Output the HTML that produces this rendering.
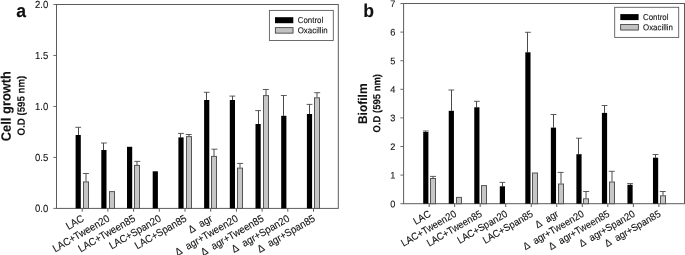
<!DOCTYPE html>
<html><head><meta charset="utf-8"><title>Figure</title>
<style>
html,body{margin:0;padding:0;background:#fff;}
body{width:685px;height:255px;overflow:hidden;font-family:"Liberation Sans",sans-serif;}
svg{display:block;will-change:transform;}
svg text{font-family:"Liberation Sans",sans-serif;fill:#111;stroke:#111;stroke-width:0.1px;}
</style></head><body>
<svg width="685" height="255" viewBox="0 0 685 255">
<rect x="0" y="0" width="685" height="255" fill="#fff"/>
<rect x="56.50" y="4.50" width="281.80" height="203.90" fill="none" stroke="#5c5c5c" stroke-width="1.0"/>
<line x1="53.30" y1="208.40" x2="56.50" y2="208.40" stroke="#5c5c5c" stroke-width="0.9"/>
<text transform="translate(48.20 211.90) rotate(0.15) scale(1 1.08)" font-size="9.5" text-anchor="end">0.0</text>
<line x1="53.30" y1="157.43" x2="56.50" y2="157.43" stroke="#5c5c5c" stroke-width="0.9"/>
<text transform="translate(48.20 160.93) rotate(0.15) scale(1 1.08)" font-size="9.5" text-anchor="end">0.5</text>
<line x1="53.30" y1="106.45" x2="56.50" y2="106.45" stroke="#5c5c5c" stroke-width="0.9"/>
<text transform="translate(48.20 109.95) rotate(0.15) scale(1 1.08)" font-size="9.5" text-anchor="end">1.0</text>
<line x1="53.30" y1="55.47" x2="56.50" y2="55.47" stroke="#5c5c5c" stroke-width="0.9"/>
<text transform="translate(48.20 58.97) rotate(0.15) scale(1 1.08)" font-size="9.5" text-anchor="end">1.5</text>
<line x1="53.30" y1="4.50" x2="56.50" y2="4.50" stroke="#5c5c5c" stroke-width="0.9"/>
<text transform="translate(48.20 8.00) rotate(0.15) scale(1 1.08)" font-size="9.5" text-anchor="end">2.0</text>
<line x1="82.20" y1="208.40" x2="82.20" y2="211.70" stroke="#5c5c5c" stroke-width="1.0"/>
<text transform="translate(84.70 220.60) rotate(-30) scale(1 1.08)" font-size="9.7" text-anchor="end" stroke="#111" stroke-width="0.15">LAC</text>
<line x1="107.90" y1="208.40" x2="107.90" y2="211.70" stroke="#5c5c5c" stroke-width="1.0"/>
<text transform="translate(110.40 220.60) rotate(-30) scale(1 1.08)" font-size="9.7" text-anchor="end" stroke="#111" stroke-width="0.15">LAC+Tween20</text>
<line x1="133.60" y1="208.40" x2="133.60" y2="211.70" stroke="#5c5c5c" stroke-width="1.0"/>
<text transform="translate(136.10 220.60) rotate(-30) scale(1 1.08)" font-size="9.7" text-anchor="end" stroke="#111" stroke-width="0.15">LAC+Tween85</text>
<line x1="159.30" y1="208.40" x2="159.30" y2="211.70" stroke="#5c5c5c" stroke-width="1.0"/>
<text transform="translate(161.80 220.60) rotate(-30) scale(1 1.08)" font-size="9.7" text-anchor="end" stroke="#111" stroke-width="0.15">LAC+Span20</text>
<line x1="185.00" y1="208.40" x2="185.00" y2="211.70" stroke="#5c5c5c" stroke-width="1.0"/>
<text transform="translate(187.50 220.60) rotate(-30) scale(1 1.08)" font-size="9.7" text-anchor="end" stroke="#111" stroke-width="0.15">LAC+Span85</text>
<line x1="210.70" y1="208.40" x2="210.70" y2="211.70" stroke="#5c5c5c" stroke-width="1.0"/>
<text transform="translate(213.20 220.60) rotate(-30) scale(1 1.08)" font-size="9.7" text-anchor="end" stroke="#111" stroke-width="0.15">Δ  agr</text>
<line x1="236.40" y1="208.40" x2="236.40" y2="211.70" stroke="#5c5c5c" stroke-width="1.0"/>
<text transform="translate(238.90 220.60) rotate(-30) scale(1 1.08)" font-size="9.7" text-anchor="end" stroke="#111" stroke-width="0.15">Δ  agr+Tween20</text>
<line x1="262.10" y1="208.40" x2="262.10" y2="211.70" stroke="#5c5c5c" stroke-width="1.0"/>
<text transform="translate(264.60 220.60) rotate(-30) scale(1 1.08)" font-size="9.7" text-anchor="end" stroke="#111" stroke-width="0.15">Δ  agr+Tween85</text>
<line x1="287.80" y1="208.40" x2="287.80" y2="211.70" stroke="#5c5c5c" stroke-width="1.0"/>
<text transform="translate(290.30 220.60) rotate(-30) scale(1 1.08)" font-size="9.7" text-anchor="end" stroke="#111" stroke-width="0.15">Δ  agr+Span20</text>
<line x1="313.50" y1="208.40" x2="313.50" y2="211.70" stroke="#5c5c5c" stroke-width="1.0"/>
<text transform="translate(316.00 220.60) rotate(-30) scale(1 1.08)" font-size="9.7" text-anchor="end" stroke="#111" stroke-width="0.15">Δ  agr+Span85</text>
<line x1="78.50" y1="127.30" x2="78.50" y2="135.00" stroke="#4a4a4a" stroke-width="1.0"/>
<line x1="75.30" y1="127.30" x2="81.10" y2="127.30" stroke="#4a4a4a" stroke-width="0.9"/>
<rect x="75.60" y="135.00" width="5.20" height="73.40" fill="#000"/>
<line x1="103.50" y1="143.00" x2="103.50" y2="150.00" stroke="#4a4a4a" stroke-width="1.0"/>
<line x1="101.00" y1="143.00" x2="106.80" y2="143.00" stroke="#4a4a4a" stroke-width="0.9"/>
<rect x="101.30" y="150.00" width="5.20" height="58.40" fill="#000"/>
<rect x="127.00" y="146.80" width="5.20" height="61.60" fill="#000"/>
<rect x="152.70" y="171.30" width="5.20" height="37.10" fill="#000"/>
<line x1="180.50" y1="133.40" x2="180.50" y2="137.40" stroke="#4a4a4a" stroke-width="1.0"/>
<line x1="178.10" y1="133.40" x2="183.90" y2="133.40" stroke="#4a4a4a" stroke-width="0.9"/>
<rect x="178.40" y="137.40" width="5.20" height="71.00" fill="#000"/>
<line x1="206.50" y1="92.30" x2="206.50" y2="100.00" stroke="#4a4a4a" stroke-width="1.0"/>
<line x1="203.80" y1="92.30" x2="209.60" y2="92.30" stroke="#4a4a4a" stroke-width="0.9"/>
<rect x="204.10" y="100.00" width="5.20" height="108.40" fill="#000"/>
<line x1="232.50" y1="96.10" x2="232.50" y2="100.00" stroke="#4a4a4a" stroke-width="1.0"/>
<line x1="229.50" y1="96.10" x2="235.30" y2="96.10" stroke="#4a4a4a" stroke-width="0.9"/>
<rect x="229.80" y="100.00" width="5.20" height="108.40" fill="#000"/>
<line x1="258.50" y1="110.60" x2="258.50" y2="124.00" stroke="#4a4a4a" stroke-width="1.0"/>
<line x1="255.20" y1="110.60" x2="261.00" y2="110.60" stroke="#4a4a4a" stroke-width="0.9"/>
<rect x="255.50" y="124.00" width="5.20" height="84.40" fill="#000"/>
<line x1="283.50" y1="95.50" x2="283.50" y2="115.80" stroke="#4a4a4a" stroke-width="1.0"/>
<line x1="280.90" y1="95.50" x2="286.70" y2="95.50" stroke="#4a4a4a" stroke-width="0.9"/>
<rect x="281.20" y="115.80" width="5.20" height="92.60" fill="#000"/>
<line x1="309.50" y1="104.40" x2="309.50" y2="114.00" stroke="#4a4a4a" stroke-width="1.0"/>
<line x1="306.60" y1="104.40" x2="312.40" y2="104.40" stroke="#4a4a4a" stroke-width="0.9"/>
<rect x="306.90" y="114.00" width="5.20" height="94.40" fill="#000"/>
<line x1="86.00" y1="173.50" x2="86.00" y2="181.50" stroke="#4a4a4a" stroke-width="1.0"/>
<line x1="82.90" y1="173.50" x2="88.90" y2="173.50" stroke="#4a4a4a" stroke-width="0.9"/>
<rect x="83.50" y="181.90" width="5.00" height="26.50" fill="#c6c6c6" stroke="#555" stroke-width="1.0"/>
<rect x="109.50" y="191.60" width="5.00" height="16.80" fill="#c6c6c6" stroke="#555" stroke-width="1.0"/>
<line x1="137.00" y1="161.40" x2="137.00" y2="165.00" stroke="#4a4a4a" stroke-width="1.0"/>
<line x1="134.30" y1="161.40" x2="140.30" y2="161.40" stroke="#4a4a4a" stroke-width="0.9"/>
<rect x="134.50" y="165.40" width="5.00" height="43.00" fill="#c6c6c6" stroke="#555" stroke-width="1.0"/>
<line x1="189.00" y1="134.50" x2="189.00" y2="136.20" stroke="#4a4a4a" stroke-width="1.0"/>
<line x1="185.70" y1="134.50" x2="191.70" y2="134.50" stroke="#4a4a4a" stroke-width="0.9"/>
<rect x="186.50" y="136.60" width="5.00" height="71.80" fill="#c6c6c6" stroke="#555" stroke-width="1.0"/>
<line x1="214.00" y1="149.20" x2="214.00" y2="156.00" stroke="#4a4a4a" stroke-width="1.0"/>
<line x1="211.40" y1="149.20" x2="217.40" y2="149.20" stroke="#4a4a4a" stroke-width="0.9"/>
<rect x="211.50" y="156.40" width="5.00" height="52.00" fill="#c6c6c6" stroke="#555" stroke-width="1.0"/>
<line x1="240.00" y1="163.40" x2="240.00" y2="167.70" stroke="#4a4a4a" stroke-width="1.0"/>
<line x1="237.10" y1="163.40" x2="243.10" y2="163.40" stroke="#4a4a4a" stroke-width="0.9"/>
<rect x="237.50" y="168.10" width="5.00" height="40.30" fill="#c6c6c6" stroke="#555" stroke-width="1.0"/>
<line x1="266.00" y1="89.50" x2="266.00" y2="95.20" stroke="#4a4a4a" stroke-width="1.0"/>
<line x1="262.80" y1="89.50" x2="268.80" y2="89.50" stroke="#4a4a4a" stroke-width="0.9"/>
<rect x="263.50" y="95.60" width="5.00" height="112.80" fill="#c6c6c6" stroke="#555" stroke-width="1.0"/>
<line x1="317.00" y1="92.70" x2="317.00" y2="97.40" stroke="#4a4a4a" stroke-width="1.0"/>
<line x1="314.20" y1="92.70" x2="320.20" y2="92.70" stroke="#4a4a4a" stroke-width="0.9"/>
<rect x="314.50" y="97.80" width="5.00" height="110.60" fill="#c6c6c6" stroke="#555" stroke-width="1.0"/>
<rect x="269.40" y="10.40" width="63.90" height="30.10" fill="#fff" stroke="#5c5c5c" stroke-width="0.9"/>
<rect x="275.00" y="17.20" width="18.30" height="6.00" fill="#000"/>
<rect x="275.35" y="27.65" width="17.70" height="5.50" fill="#c2c2c2" stroke="#333" stroke-width="0.8"/>
<text transform="translate(297.70 23.00) rotate(0.15) scale(1 1.08)" font-size="7.9" text-anchor="start">Control</text>
<text transform="translate(297.70 33.30) rotate(0.15) scale(1 1.08)" font-size="7.9" text-anchor="start">Oxacillin</text>
<text transform="translate(10.70 141.20) rotate(-90.15) scale(1 1.055)" font-size="12.9" text-anchor="start" font-weight="bold">Cell growth</text>
<text transform="translate(24.70 135.40) rotate(-90.15) scale(1 1.08)" font-size="9.7" text-anchor="start" font-weight="bold">O.D (595 nm)</text>
<text transform="translate(16.20 17.10) rotate(0.15) scale(1 1.06)" font-size="17.6" text-anchor="start" font-weight="bold">a</text>
<rect x="403.60" y="3.50" width="280.90" height="200.20" fill="none" stroke="#5c5c5c" stroke-width="1.0"/>
<line x1="400.40" y1="203.70" x2="403.60" y2="203.70" stroke="#5c5c5c" stroke-width="0.9"/>
<text transform="translate(395.30 207.15) rotate(0.15) scale(1 1.03)" font-size="9.2" text-anchor="end">0</text>
<line x1="400.40" y1="175.10" x2="403.60" y2="175.10" stroke="#5c5c5c" stroke-width="0.9"/>
<text transform="translate(395.30 178.55) rotate(0.15) scale(1 1.03)" font-size="9.2" text-anchor="end">1</text>
<line x1="400.40" y1="146.50" x2="403.60" y2="146.50" stroke="#5c5c5c" stroke-width="0.9"/>
<text transform="translate(395.30 149.95) rotate(0.15) scale(1 1.03)" font-size="9.2" text-anchor="end">2</text>
<line x1="400.40" y1="117.90" x2="403.60" y2="117.90" stroke="#5c5c5c" stroke-width="0.9"/>
<text transform="translate(395.30 121.35) rotate(0.15) scale(1 1.03)" font-size="9.2" text-anchor="end">3</text>
<line x1="400.40" y1="89.30" x2="403.60" y2="89.30" stroke="#5c5c5c" stroke-width="0.9"/>
<text transform="translate(395.30 92.75) rotate(0.15) scale(1 1.03)" font-size="9.2" text-anchor="end">4</text>
<line x1="400.40" y1="60.70" x2="403.60" y2="60.70" stroke="#5c5c5c" stroke-width="0.9"/>
<text transform="translate(395.30 64.15) rotate(0.15) scale(1 1.03)" font-size="9.2" text-anchor="end">5</text>
<line x1="400.40" y1="32.10" x2="403.60" y2="32.10" stroke="#5c5c5c" stroke-width="0.9"/>
<text transform="translate(395.30 35.55) rotate(0.15) scale(1 1.03)" font-size="9.2" text-anchor="end">6</text>
<line x1="400.40" y1="3.50" x2="403.60" y2="3.50" stroke="#5c5c5c" stroke-width="0.9"/>
<text transform="translate(395.30 6.95) rotate(0.15) scale(1 1.03)" font-size="9.2" text-anchor="end">7</text>
<line x1="429.13" y1="203.70" x2="429.13" y2="207.00" stroke="#5c5c5c" stroke-width="1.0"/>
<text transform="translate(431.63 215.90) rotate(-30) scale(1 1.08)" font-size="9.4" text-anchor="end" stroke="#111" stroke-width="0.15">LAC</text>
<line x1="454.66" y1="203.70" x2="454.66" y2="207.00" stroke="#5c5c5c" stroke-width="1.0"/>
<text transform="translate(457.16 215.90) rotate(-30) scale(1 1.08)" font-size="9.4" text-anchor="end" stroke="#111" stroke-width="0.15">LAC+Tween20</text>
<line x1="480.19" y1="203.70" x2="480.19" y2="207.00" stroke="#5c5c5c" stroke-width="1.0"/>
<text transform="translate(482.69 215.90) rotate(-30) scale(1 1.08)" font-size="9.4" text-anchor="end" stroke="#111" stroke-width="0.15">LAC+Tween85</text>
<line x1="505.72" y1="203.70" x2="505.72" y2="207.00" stroke="#5c5c5c" stroke-width="1.0"/>
<text transform="translate(508.22 215.90) rotate(-30) scale(1 1.08)" font-size="9.4" text-anchor="end" stroke="#111" stroke-width="0.15">LAC+Span20</text>
<line x1="531.25" y1="203.70" x2="531.25" y2="207.00" stroke="#5c5c5c" stroke-width="1.0"/>
<text transform="translate(533.75 215.90) rotate(-30) scale(1 1.08)" font-size="9.4" text-anchor="end" stroke="#111" stroke-width="0.15">LAC+Span85</text>
<line x1="556.78" y1="203.70" x2="556.78" y2="207.00" stroke="#5c5c5c" stroke-width="1.0"/>
<text transform="translate(559.28 215.90) rotate(-30) scale(1 1.08)" font-size="9.4" text-anchor="end" stroke="#111" stroke-width="0.15">Δ  agr</text>
<line x1="582.31" y1="203.70" x2="582.31" y2="207.00" stroke="#5c5c5c" stroke-width="1.0"/>
<text transform="translate(584.81 215.90) rotate(-30) scale(1 1.08)" font-size="9.4" text-anchor="end" stroke="#111" stroke-width="0.15">Δ  agr+Tween20</text>
<line x1="607.84" y1="203.70" x2="607.84" y2="207.00" stroke="#5c5c5c" stroke-width="1.0"/>
<text transform="translate(610.34 215.90) rotate(-30) scale(1 1.08)" font-size="9.4" text-anchor="end" stroke="#111" stroke-width="0.15">Δ  agr+Tween85</text>
<line x1="633.37" y1="203.70" x2="633.37" y2="207.00" stroke="#5c5c5c" stroke-width="1.0"/>
<text transform="translate(635.87 215.90) rotate(-30) scale(1 1.08)" font-size="9.4" text-anchor="end" stroke="#111" stroke-width="0.15">Δ  agr+Span20</text>
<line x1="658.90" y1="203.70" x2="658.90" y2="207.00" stroke="#5c5c5c" stroke-width="1.0"/>
<text transform="translate(661.40 215.90) rotate(-30) scale(1 1.08)" font-size="9.4" text-anchor="end" stroke="#111" stroke-width="0.15">Δ  agr+Span85</text>
<line x1="425.50" y1="131.00" x2="425.50" y2="132.00" stroke="#4a4a4a" stroke-width="1.0"/>
<line x1="422.90" y1="131.00" x2="428.70" y2="131.00" stroke="#4a4a4a" stroke-width="0.9"/>
<rect x="423.20" y="132.00" width="5.20" height="71.70" fill="#000"/>
<line x1="451.50" y1="90.00" x2="451.50" y2="110.80" stroke="#4a4a4a" stroke-width="1.0"/>
<line x1="448.43" y1="90.00" x2="454.23" y2="90.00" stroke="#4a4a4a" stroke-width="0.9"/>
<rect x="448.73" y="110.80" width="5.20" height="92.90" fill="#000"/>
<line x1="476.50" y1="101.30" x2="476.50" y2="107.30" stroke="#4a4a4a" stroke-width="1.0"/>
<line x1="473.96" y1="101.30" x2="479.76" y2="101.30" stroke="#4a4a4a" stroke-width="0.9"/>
<rect x="474.26" y="107.30" width="5.20" height="96.40" fill="#000"/>
<line x1="502.50" y1="182.40" x2="502.50" y2="186.30" stroke="#4a4a4a" stroke-width="1.0"/>
<line x1="499.49" y1="182.40" x2="505.29" y2="182.40" stroke="#4a4a4a" stroke-width="0.9"/>
<rect x="499.79" y="186.30" width="5.20" height="17.40" fill="#000"/>
<line x1="527.50" y1="32.30" x2="527.50" y2="52.30" stroke="#4a4a4a" stroke-width="1.0"/>
<line x1="525.02" y1="32.30" x2="530.82" y2="32.30" stroke="#4a4a4a" stroke-width="0.9"/>
<rect x="525.32" y="52.30" width="5.20" height="151.40" fill="#000"/>
<line x1="553.50" y1="114.50" x2="553.50" y2="127.60" stroke="#4a4a4a" stroke-width="1.0"/>
<line x1="550.55" y1="114.50" x2="556.35" y2="114.50" stroke="#4a4a4a" stroke-width="0.9"/>
<rect x="550.85" y="127.60" width="5.20" height="76.10" fill="#000"/>
<line x1="578.50" y1="138.20" x2="578.50" y2="154.20" stroke="#4a4a4a" stroke-width="1.0"/>
<line x1="576.08" y1="138.20" x2="581.88" y2="138.20" stroke="#4a4a4a" stroke-width="0.9"/>
<rect x="576.38" y="154.20" width="5.20" height="49.50" fill="#000"/>
<line x1="604.50" y1="105.50" x2="604.50" y2="112.90" stroke="#4a4a4a" stroke-width="1.0"/>
<line x1="601.61" y1="105.50" x2="607.41" y2="105.50" stroke="#4a4a4a" stroke-width="0.9"/>
<rect x="601.91" y="112.90" width="5.20" height="90.80" fill="#000"/>
<line x1="630.50" y1="183.60" x2="630.50" y2="184.80" stroke="#4a4a4a" stroke-width="1.0"/>
<line x1="627.14" y1="183.60" x2="632.94" y2="183.60" stroke="#4a4a4a" stroke-width="0.9"/>
<rect x="627.44" y="184.80" width="5.20" height="18.90" fill="#000"/>
<line x1="655.50" y1="154.50" x2="655.50" y2="157.70" stroke="#4a4a4a" stroke-width="1.0"/>
<line x1="652.67" y1="154.50" x2="658.47" y2="154.50" stroke="#4a4a4a" stroke-width="0.9"/>
<rect x="652.97" y="157.70" width="5.20" height="46.00" fill="#000"/>
<line x1="433.00" y1="176.40" x2="433.00" y2="178.10" stroke="#4a4a4a" stroke-width="1.0"/>
<line x1="430.00" y1="176.40" x2="436.00" y2="176.40" stroke="#4a4a4a" stroke-width="0.9"/>
<rect x="430.50" y="178.50" width="5.00" height="25.20" fill="#c6c6c6" stroke="#555" stroke-width="1.0"/>
<rect x="456.50" y="197.40" width="5.00" height="6.30" fill="#c6c6c6" stroke="#555" stroke-width="1.0"/>
<rect x="481.50" y="185.60" width="5.00" height="18.10" fill="#c6c6c6" stroke="#555" stroke-width="1.0"/>
<rect x="532.50" y="173.00" width="5.00" height="30.70" fill="#c6c6c6" stroke="#555" stroke-width="1.0"/>
<line x1="561.00" y1="172.40" x2="561.00" y2="183.60" stroke="#4a4a4a" stroke-width="1.0"/>
<line x1="557.65" y1="172.40" x2="563.65" y2="172.40" stroke="#4a4a4a" stroke-width="0.9"/>
<rect x="558.50" y="184.00" width="5.00" height="19.70" fill="#c6c6c6" stroke="#555" stroke-width="1.0"/>
<line x1="586.00" y1="191.50" x2="586.00" y2="198.40" stroke="#4a4a4a" stroke-width="1.0"/>
<line x1="583.18" y1="191.50" x2="589.18" y2="191.50" stroke="#4a4a4a" stroke-width="0.9"/>
<rect x="583.50" y="198.80" width="5.00" height="4.90" fill="#c6c6c6" stroke="#555" stroke-width="1.0"/>
<line x1="612.00" y1="171.30" x2="612.00" y2="181.60" stroke="#4a4a4a" stroke-width="1.0"/>
<line x1="608.71" y1="171.30" x2="614.71" y2="171.30" stroke="#4a4a4a" stroke-width="0.9"/>
<rect x="609.50" y="182.00" width="5.00" height="21.70" fill="#c6c6c6" stroke="#555" stroke-width="1.0"/>
<line x1="663.00" y1="191.50" x2="663.00" y2="195.40" stroke="#4a4a4a" stroke-width="1.0"/>
<line x1="659.77" y1="191.50" x2="665.77" y2="191.50" stroke="#4a4a4a" stroke-width="0.9"/>
<rect x="660.50" y="195.80" width="5.00" height="7.90" fill="#c6c6c6" stroke="#555" stroke-width="1.0"/>
<rect x="614.70" y="7.30" width="64.00" height="30.10" fill="#fff" stroke="#5c5c5c" stroke-width="0.9"/>
<rect x="620.30" y="14.10" width="18.30" height="6.00" fill="#000"/>
<rect x="620.65" y="24.55" width="17.70" height="5.50" fill="#c2c2c2" stroke="#333" stroke-width="0.8"/>
<text transform="translate(643.00 19.90) rotate(0.15) scale(1 1.08)" font-size="7.9" text-anchor="start">Control</text>
<text transform="translate(643.00 30.20) rotate(0.15) scale(1 1.08)" font-size="7.9" text-anchor="start">Oxacillin</text>
<text transform="translate(367.00 124.10) rotate(-90.15) scale(1 1.055)" font-size="12.0" text-anchor="start" font-weight="bold">Biofilm</text>
<text transform="translate(380.30 132.50) rotate(-90.15) scale(1 1.08)" font-size="9.5" text-anchor="start" font-weight="bold">O.D (595 nm)</text>
<text transform="translate(363.30 17.10) rotate(0.15) scale(1 1.06)" font-size="17.6" text-anchor="start" font-weight="bold">b</text>
</svg>
</body></html>
